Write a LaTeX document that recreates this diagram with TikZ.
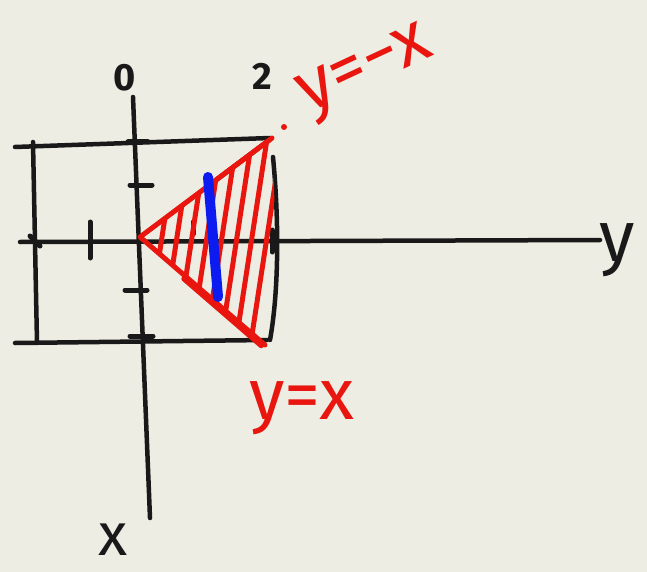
\documentclass[tikz,border=0pt]{standalone}
\usepackage{fontspec}
\setmainfont{Fira Sans}
\usetikzlibrary{calc}
\definecolor{paper}{RGB}{237,237,227}
\definecolor{ink}{RGB}{25,25,25}
\definecolor{pen red}{RGB}{232,22,14}
\definecolor{pen blue}{RGB}{12,28,240}
\tikzset{
  sketch/.style={ink, line width=4.5pt, line cap=round, line join=round},
  tick/.style={ink, line width=5pt, line cap=round},
  region/.style={pen red, line width=5pt, line cap=round, line join=round},
  slice/.style={pen blue, line width=10pt, line cap=round},
  hand label/.style={font=\fontsize{72}{72}\selectfont, inner sep=0pt},
  num label/.style={font=\fontsize{38}{38}\selectfont\bfseries, inner sep=0pt, ink},
}

\begin{document}
\begin{tikzpicture}[x=1pt, y=-1pt]

  \fill[paper] (0,0) rectangle (647,572);
  \useasboundingbox (0,0) rectangle (647,572);

  % Axes (y to the right, x downwards)
  \draw[sketch] (20,242) -- (600,240);
  \draw[sketch] (133,97) -- (150,518);

  % Square
  \draw[sketch] (15,147) -- (270,138);
  \draw[sketch] (15,343) -- (267,340);
  \draw[sketch] (33,142) -- (37,343);
  \draw[sketch] (273,157) .. controls (279,220) and (279,290) .. (270,340);

  % Ticks
  \draw[tick] (90,222) -- (90,258);
  \draw[tick] (193,222) -- (193,234);
  \draw[tick] (30,236) -- (40,246);
  \draw[tick] (272,230) -- (272,252);
  \draw[tick] (130,185) -- (152,185);
  \draw[tick] (125,290) -- (147,290);
  \draw[tick] (128,142) -- (148,142);
  \draw[tick] (130,336) -- (153,336);

  % Tick labels
  \node[num label] (zero) at (125,78) {0};
  \node[num label] (two) at (262,76) {2};

  % Triangle between y=-x and y=x
  \coordinate (O) at (140,237);
  \coordinate (A) at (272,138);
  \coordinate (B) at (265,345);
  \begin{scope}
    \clip (O) -- (A) -- (276,240) -- (B) -- cycle;
    \foreach \x in {162,177,...,272}
      \draw[region] (\x+21,100) -- (\x-25,400);
  \end{scope}
  \draw[region] (A) -- (O) -- (B);
  \draw[region] ($(O)!0.55!(A)$) -- ($(O)!0.98!(A)$);
  \draw[region] ($(O)!0.35!(B)+(0,4)$) -- ($(O)!0.97!(B)+(0,4)$);
  \fill[pen red] (284,127) circle (3pt);

  % Slice
  \draw[slice] (208,177) -- (218,297);

  % Labels
  \node[hand label, ink] (y label) at (617,250) {y};
  \node[hand label, ink, font=\fontsize{60}{60}\selectfont] (x label) at (113,540) {x};
  \node[hand label, pen red, rotate=25] (upper line) at (367,74) {y=−x};
  \node[hand label, pen red] (lower line) at (302,408) {y=x};

\end{tikzpicture}
\end{document}
